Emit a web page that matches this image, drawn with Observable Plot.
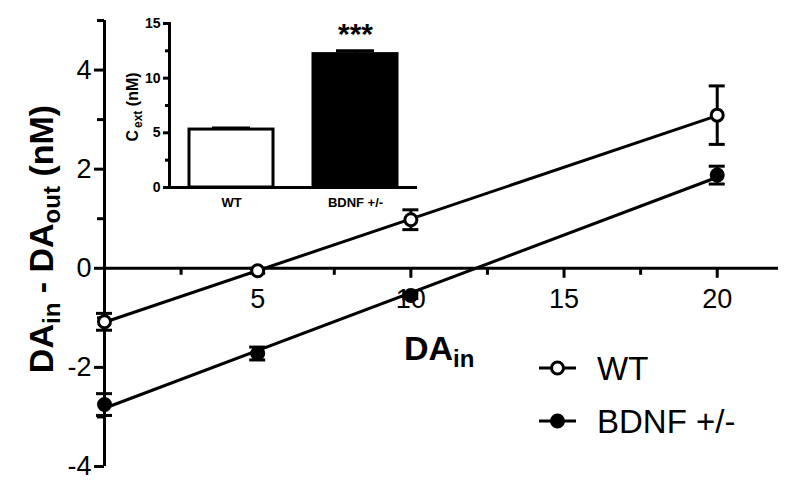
<!DOCTYPE html>
<html><head><meta charset="utf-8">
<script src="https://cdn.jsdelivr.net/npm/d3@7"></script>
<script src="https://cdn.jsdelivr.net/npm/@observablehq/plot@0.6"></script>
<style>
body{margin:0;background:#fff;}
#wrap{position:relative;width:800px;height:492px;font-family:"Liberation Sans",Arial,sans-serif;}
#wrap svg{position:absolute;left:0;top:0;}
</style></head><body><div id="wrap"></div>
<script>
// ---- main chart data ----
const doses = [0, 5, 10, 20];
const series = ["WT", "BDNF +/-"];
const wtMean = [-1.08, -0.05, 0.98, 3.09];
const wtSem = [0.17, 0.05, 0.20, 0.59];
const bdnfMean = [-2.75, -1.72, -0.55, 1.88];
const bdnfSem = [0.22, 0.13, 0.06, 0.18];
const xMajorTicks = [5, 10, 15, 20];
const xMinorTicks = [2.5, 7.5, 12.5, 17.5];
const yMajorTicks = [-4, -2, 0, 2, 4];
const yMinorTicks = [-3, -1, 1, 3, 5];
// ---- inset data ----
const insetGroups = ["WT", "BDNF +/-"];
const insetMean = [5.3, 12.2];
const insetSem = [0.15, 0.3];
const insetSig = ["", "***"];
const insetMajorTicks = [0, 5, 10, 15];
const insetMinorTicks = [2.5, 7.5, 12.5];

const FONT = '"Liberation Sans", Arial, sans-serif';
const rows = [];
doses.forEach((d, i) => {
  rows.push({group: series[0], x: d, y: wtMean[i], e: wtSem[i]});
  rows.push({group: series[1], x: d, y: bdnfMean[i], e: bdnfSem[i]});
});
const fillOf = {[series[0]]: "white", [series[1]]: "black"};
const SW = 3;

const main = Plot.plot({
  width: 800, height: 492,
  marginLeft: 104, marginRight: 22, marginTop: 20, marginBottom: 26,
  x: {domain: [0, 22], axis: null},
  y: {domain: [-4, 5], axis: null},
  style: {fontFamily: FONT, background: "transparent", overflow: "visible", color: "black"},
  marks: [
    Plot.ruleX([0], {strokeWidth: SW}),
    Plot.ruleY([0], {strokeWidth: SW}),
    Plot.ruleY(yMajorTicks, {y: d => d, x1: () => 0, x2: () => 0, insetLeft: -10, strokeWidth: SW}),
    Plot.ruleY(yMinorTicks, {y: d => d, x1: () => 0, x2: () => 0, insetLeft: -7, strokeWidth: SW}),
    Plot.ruleX(xMajorTicks, {x: d => d, y1: () => 0, y2: () => 0, insetBottom: -10, strokeWidth: SW}),
    Plot.ruleX(xMinorTicks, {x: d => d, y1: () => 0, y2: () => 0, insetBottom: -7, strokeWidth: SW}),
    Plot.text(yMajorTicks, {x: () => 0, y: d => d, text: d => String(d), textAnchor: "end", dx: -13, fontSize: 27}),
    Plot.text(xMajorTicks, {x: d => d, y: () => 0, text: d => String(d), dy: 31, fontSize: 27}),
    Plot.linearRegressionY(rows, {x: "x", y: "y", z: "group", stroke: "black", strokeWidth: SW, ci: 0}),
    Plot.ruleX(rows, {x: "x", y1: d => d.y - d.e, y2: d => d.y + d.e, strokeWidth: SW}),
    Plot.ruleY(rows, {y: d => d.y + d.e, x1: "x", x2: "x", insetLeft: -8, insetRight: -8, strokeWidth: SW}),
    Plot.ruleY(rows, {y: d => d.y - d.e, x1: "x", x2: "x", insetLeft: -8, insetRight: -8, strokeWidth: SW}),
    Plot.dot(rows, {filter: d => d.group === series[0], x: "x", y: "y", r: 6, fill: "white", stroke: "black", strokeWidth: SW}),
    Plot.dot(rows, {filter: d => d.group === series[1], x: "x", y: "y", r: 6, fill: "black", stroke: "black", strokeWidth: SW})
  ]
});
document.getElementById("wrap").appendChild(main);

const msvg = d3.select(main);
// y axis title
const yt = msvg.append("text")
  .attr("transform", "translate(53,239) rotate(-90)")
  .attr("text-anchor", "middle")
  .attr("font-family", FONT).attr("font-weight", "bold").attr("font-size", 34).attr("fill", "black");
yt.append("tspan").text("DA");
yt.append("tspan").attr("font-size", 24).attr("dy", 7).text("in");
yt.append("tspan").attr("dy", -7).text(" - DA");
yt.append("tspan").attr("font-size", 24).attr("dy", 7).text("out");
yt.append("tspan").attr("dy", -7).text(" (nM)");
// x axis title
const xt = msvg.append("text")
  .attr("x", 404).attr("y", 360).attr("text-anchor", "start")
  .attr("font-family", FONT).attr("font-weight", "bold").attr("font-size", 34).attr("fill", "black");
xt.append("tspan").text("DA");
xt.append("tspan").attr("font-size", 24).attr("dy", 7).text("in");
// legend
series.forEach((s, i) => {
  const g = msvg.append("g").attr("transform", `translate(539,${368 + i * 53})`);
  g.append("line").attr("x1", 0).attr("x2", 37).attr("stroke", "black").attr("stroke-width", SW);
  g.append("circle").attr("cx", 18.5).attr("r", 6).attr("fill", fillOf[s]).attr("stroke", "black").attr("stroke-width", SW);
  g.append("text").attr("x", 58).attr("dy", "0.36em").attr("text-anchor", "start")
    .attr("font-family", FONT).attr("font-size", 33).attr("fill", "black").text(s);
});

// ---- inset ----
const insetRows = insetGroups.map((g, i) => ({g, v: insetMean[i], e: insetSem[i], s: insetSig[i]}));
const inset = Plot.plot({
  width: 300, height: 215,
  marginLeft: 49, marginRight: 3, marginTop: 23, marginBottom: 28,
  x: {domain: insetGroups, paddingInner: 0.32, paddingOuter: 0.16, axis: null},
  y: {domain: [0, 15], axis: null},
  style: {fontFamily: FONT, background: "transparent", overflow: "visible", color: "black"},
  marks: [
    Plot.barY(insetRows, {filter: d => d.g === insetGroups[0], x: "g", y: "v", fill: "white", stroke: "black", strokeWidth: SW}),
    Plot.barY(insetRows, {filter: d => d.g === insetGroups[1], x: "g", y: "v", fill: "black", stroke: "black", strokeWidth: SW}),
    Plot.ruleX(insetRows, {x: "g", y1: "v", y2: d => d.v + d.e, strokeWidth: SW}),
    Plot.tickY(insetRows, {x: "g", y: d => d.v + d.e, insetLeft: 23, insetRight: 23, strokeWidth: SW}),
    Plot.text(insetRows, {x: "g", y: d => d.v + d.e, text: "s", dy: -16, fontSize: 30, fontWeight: "bold"}),
    Plot.frame({anchor: "left", strokeWidth: SW}),
    Plot.ruleY([0], {strokeWidth: SW}),
    Plot.axisY(insetMajorTicks, {tickSize: 6, tickFormat: () => "", strokeWidth: SW, label: null}),
    Plot.axisY(insetMinorTicks, {tickSize: 4, tickFormat: () => "", strokeWidth: SW, label: null}),
    Plot.text(insetMajorTicks, {y: d => d, frameAnchor: "left", text: d => String(d), textAnchor: "end", dx: -9, fontSize: 14, fontWeight: "bold"}),
    Plot.text(insetGroups, {x: d => d, frameAnchor: "bottom", text: d => d, dy: 19, fontSize: 13, fontWeight: "bold"})
  ]
});
inset.style.left = "120px";
inset.style.top = "0px";
document.getElementById("wrap").appendChild(inset);
const isvg = d3.select(inset);
const it = isvg.append("text")
  .attr("transform", "translate(18,107) rotate(-90)")
  .attr("text-anchor", "middle")
  .attr("font-family", FONT).attr("font-weight", "bold").attr("font-size", 16).attr("fill", "black");
it.append("tspan").text("C");
it.append("tspan").attr("font-size", 12).attr("dy", 4).attr("dx", 2).text("ext");
it.append("tspan").attr("dy", -4).text(" (nM)");
</script></body></html>
